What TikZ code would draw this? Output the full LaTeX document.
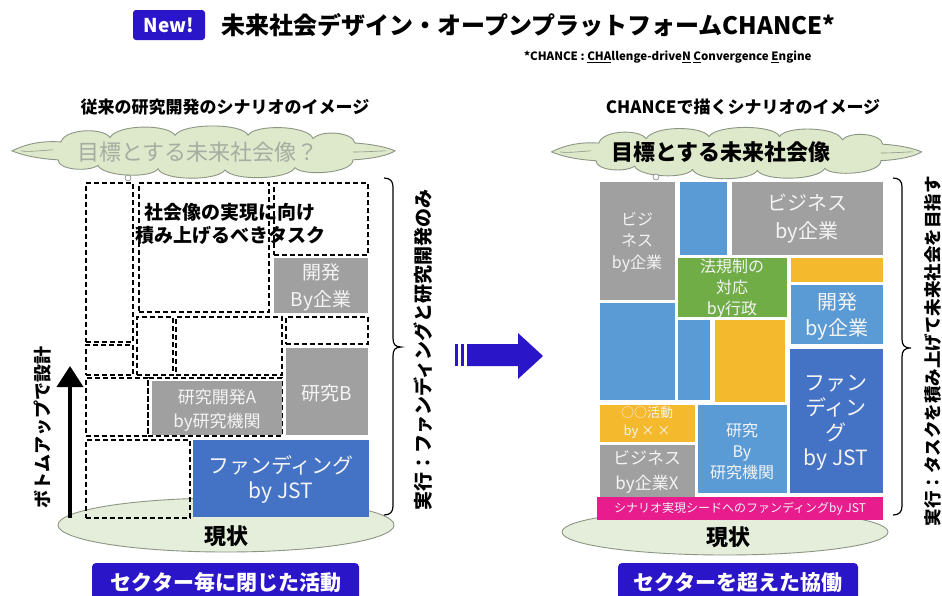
\documentclass[tikz,border=0pt]{standalone}
\usepackage{fontspec}
\setmainfont{Noto Sans CJK JP}
\usetikzlibrary{shapes.geometric,fit,arrows.meta}
\definecolor{navy}{RGB}{42,22,200}
\definecolor{boxgray}{RGB}{160,160,160}
\definecolor{lblue}{RGB}{91,155,213}
\definecolor{dblue}{RGB}{68,114,196}
\definecolor{lgreen}{RGB}{112,173,71}
\definecolor{gold}{RGB}{244,185,45}
\definecolor{pinkbar}{RGB}{232,28,140}
\definecolor{cloudfill}{RGB}{222,232,202}
\definecolor{cloudline}{RGB}{140,150,132}
\definecolor{ellfill}{RGB}{228,238,218}
\definecolor{fadetext}{RGB}{165,172,162}
\definecolor{boxtext}{RGB}{244,244,244}
\newcommand\fsz[2]{\fontsize{#1pt}{#2pt}\selectfont}
\begin{document}
\begin{tikzpicture}[x=1pt,y=-1pt,
  dbox/.style={draw,line width=1.4pt,dash pattern=on 5pt off 3pt,inner sep=0pt},
  tile/.style={inner sep=0pt},
  tiletext/.style={text=boxtext,align=center,inner sep=0pt},
  gbox/.style={tile,fill=boxgray},
  lbbox/.style={tile,fill=lblue},
  dbbox/.style={tile,fill=dblue},
  grbox/.style={tile,fill=lgreen},
  gdbox/.style={tile,fill=gold},
  pkbox/.style={tile,fill=pinkbar},
  cloudpic/.pic={
    \draw[fill=cloudfill,draw=cloudline,line width=0.9pt]
      (-191,-1) .. controls (-175,-8) and (-160,-10) .. (-142,-9)
      .. controls (-138,-21) and (-100,-22) .. (-93,-13)
      .. controls (-85,-25) and (-35,-25) .. (-28,-15)
      .. controls (-20,-26) and (40,-26) .. (45,-15)
      .. controls (52,-25) and (105,-24) .. (110,-12)
      .. controls (118,-20) and (150,-18) .. (152,-8)
      .. controls (170,-7) and (185,-4) .. (192,-1)
      .. controls (185,3) and (170,6) .. (150,7)
      .. controls (150,19) and (100,22) .. (92,14)
      .. controls (85,25) and (30,26) .. (22,16)
      .. controls (15,26) and (-40,26) .. (-45,15)
      .. controls (-52,24) and (-100,22) .. (-105,12)
      .. controls (-115,18) and (-145,16) .. (-145,7)
      .. controls (-165,6) and (-180,3) .. (-191,-1) -- cycle;
    \draw[draw=cloudline,line width=0.6pt] (-150,-2) .. controls (-165,-1) and (-175,0) .. (-182,-1);
    \draw[draw=cloudline,line width=0.6pt] (150,0) .. controls (165,0) and (175,-1) .. (183,-1);
  },
  ground/.style={ellipse,draw=cloudline,fill=ellfill,line width=0.9pt,inner sep=0pt},
  tag/.style={fill=navy,rounded corners=4pt,inner sep=0pt},
  tagtext/.style={text=white,font=\bfseries\fsz{21}{24}},
  tinydot/.style={circle,draw=gray,fill=white,inner sep=0pt,minimum size=6pt,line width=0.6pt},
  brace/.style={line width=1.2pt},
  vtext/.style={rotate=90,font=\bfseries\fsz{19}{20}}
]
\clip (0,0) rectangle (942,595);
\fill[white] (0,0) rectangle (942,595);

% ---------- title ----------
\node[fill=navy,rounded corners=3pt,minimum width=72pt,minimum height=30pt,text=white,font=\bfseries\fsz{19}{20}] (newtag) at (169,25) {New!};
\node[anchor=west,font=\bfseries\fsz{24}{26}] (title) at (218,25) {未来社会デザイン・オープンプラットフォームCHANCE*};
\node[anchor=east,font=\bfseries\fsz{11.5}{13}] (subtitle) at (815,57) {*CHANCE : \underline{CHA}llenge-drive\underline{N} \underline{C}onvergence \underline{E}ngine};

% ---------- left panel ----------
\node[font=\bfseries\fsz{17}{19}] (headL) at (225,107) {従来の研究開発のシナリオのイメージ};
\pic[yscale=1.12] (cloudL) at (203,152) {cloudpic};
\node[text=fadetext,font=\fsz{22}{24}] (goalL) at (198,152) {目標とする未来社会像？};
\node[tinydot] (dotL) at (128,178) {};

\node[ground,minimum width=336pt,minimum height=54pt] (nowL) at (226,525) {};
\node[font=\bfseries\fsz{22}{24}] (nowLt) at (226,536) {現状};

\node[dbox,fit={(86,183)(133,342)}] (d1) {};
\node[dbox,fit={(139,183)(269,312)}] (d2) {};
\node[dbox,fit={(274,183)(368,255)}] (d3) {};
\node[gbox,fit={(274,258)(368,313)}] (devL) {};
\node[tiletext,font=\fsz{19}{27}] (devLt) at (321,287) {開発\\By企業};
\node[dbox,fit={(86,345)(133,375)}] (d4) {};
\node[dbox,fit={(137,317)(173,375)}] (d5) {};
\node[dbox,fit={(176,317)(282,375)}] (d6) {};
\node[dbox,fit={(286,317)(368,344)}] (d7) {};
\node[gbox,fit={(286,348)(368,435)}] (resB) {};
\node[tiletext,font=\fsz{19}{24}] (resBt) at (327,393) {研究B};
\node[dbox,fit={(86,378)(148,436)}] (d8) {};
\node[dbox,fit={(148,378)(282,436)}] (d9) {};
\node[gbox,fit={(152,381)(282,435)}] (resA) {};
\node[tiletext,font=\fsz{17}{24}] (resAt) at (217,410) {研究開発A\\by研究機関};
\node[dbox,fit={(86,440)(190,518)}] (d10) {};
\node[dbbox,fit={(193,440)(369,517)}] (fundL) {};
\node[tiletext,font=\fsz{21}{25}] (fundLt) at (281,480) {ファンディング\\by JST};

\node[align=center,font=\bfseries\fsz{19}{23}] (taskL) at (230,224) {社会像の実現に向け\\積み上げるべきタスク};

\coordinate (upS) at (70,518);
\coordinate (upE) at (70,366);
\draw[line width=4pt,-{Triangle[width=26pt,length=21pt]}] (upS) -- (upE);
\node[rotate=90,font=\bfseries\fsz{18}{20}] (bottomup) at (43,427) {ボトムアップで設計};

\draw[brace] (384,178) .. controls (390,178) and (393,181) .. (393,187) -- (393,338) .. controls (393,344) and (395,347) .. (401,347) .. controls (395,347) and (393,350) .. (393,356) -- (393,506) .. controls (393,512) and (390,515) .. (384,515);
\node[vtext] (execL) at (423,350) {実行：ファンディングと研究開発のみ};

\node[tag,fit={(92,563)(359,605)}] (labL) {};
\node[tagtext] (labLt) at (226,583) {セクター毎に閉じた活動};

% ---------- middle arrow ----------
\fill[navy] (455,344) rectangle (458,366);
\fill[navy] (461,344) rectangle (464,366);
\fill[navy] (467,344) -- (518,344) -- (518,333) -- (543,356) -- (518,379) -- (518,366) -- (467,366) -- cycle;

% ---------- right panel ----------
\node[font=\bfseries\fsz{17}{19}] (headR) at (743,107) {CHANCEで描くシナリオのイメージ};
\pic[xscale=0.966,yscale=1.1] (cloudR) at (736,153) {cloudpic};
\node[font=\bfseries\fsz{22}{24}] (goalR) at (721,152) {目標とする未来社会像};
\node[tinydot] (dotR) at (656,177) {};

\node[ground,minimum width=326pt,minimum height=46pt] (nowR) at (725,532) {};
\node[font=\bfseries\fsz{22}{24}] (nowRt) at (728,537) {現状};

\node[gbox,fit={(600,182)(675,300)}] (r1) {};
\node[tiletext,font=\fsz{16}{21.5}] (r1t) at (637,242) {ビジ\\ネス\\by企業};
\node[lbbox,fit={(680,182)(727,255)}] (r2) {};
\node[gbox,fit={(732,182)(883,255)}] (r3) {};
\node[tiletext,font=\fsz{20}{28}] (r3t) at (807,219) {ビジネス\\by企業};
\node[grbox,fit={(678,258)(787,317)}] (r4) {};
\node[tiletext,font=\fsz{16}{21}] (r4t) at (732,289) {法規制の\\対応\\by行政};
\node[gdbox,fit={(791,258)(883,282)}] (r5) {};
\node[lbbox,fit={(791,285)(883,344)}] (r6) {};
\node[tiletext,font=\fsz{20}{26}] (r6t) at (837,316) {開発\\by企業};
\node[lbbox,fit={(600,303)(675,400)}] (r7) {};
\node[lbbox,fit={(678,320)(710,400)}] (r8) {};
\node[gdbox,fit={(715,320)(785,402)}] (r9) {};
\node[dbbox,fit={(790,349)(883,493)}] (r10) {};
\node[tiletext,font=\fsz{21}{25}] (r10t) at (836,423) {ファン\\ディン\\グ\\by JST};
\node[gdbox,fit={(600,405)(695,442)}] (r11) {};
\node[tiletext,font=\fsz{13}{18}] (r11t) at (647,423) {○○活動\\by × ×};
\node[gbox,fit={(600,445)(695,500)}] (r12) {};
\node[tiletext,font=\fsz{17}{25}] (r12t) at (647,472) {ビジネス\\by企業X};
\node[lbbox,fit={(698,405)(787,493)}] (r13) {};
\node[tiletext,font=\fsz{16}{21}] (r13t) at (742,451) {研究\\By\\研究機関};
\node[pkbox,fit={(597,497)(883,520)}] (r14) {};
\node[tiletext,font=\fsz{12}{14}] (r14t) at (740,509) {シナリオ実現シードへのファンディングby JST};

\draw[brace] (893,178) .. controls (899,178) and (902,181) .. (902,187) -- (902,339) .. controls (902,345) and (904,348) .. (911,348) .. controls (904,348) and (902,351) .. (902,357) -- (902,506) .. controls (902,512) and (899,515) .. (893,515);
\node[vtext,font=\bfseries\fsz{17.5}{20}] (execR) at (933,351) {実行：タスクを積み上げて未来社会を目指す};

\node[tag,fit={(618,563)(858,605)}] (labR) {};
\node[tagtext] (labRt) at (738,583) {セクターを超えた協働};
\end{tikzpicture}
\end{document}
